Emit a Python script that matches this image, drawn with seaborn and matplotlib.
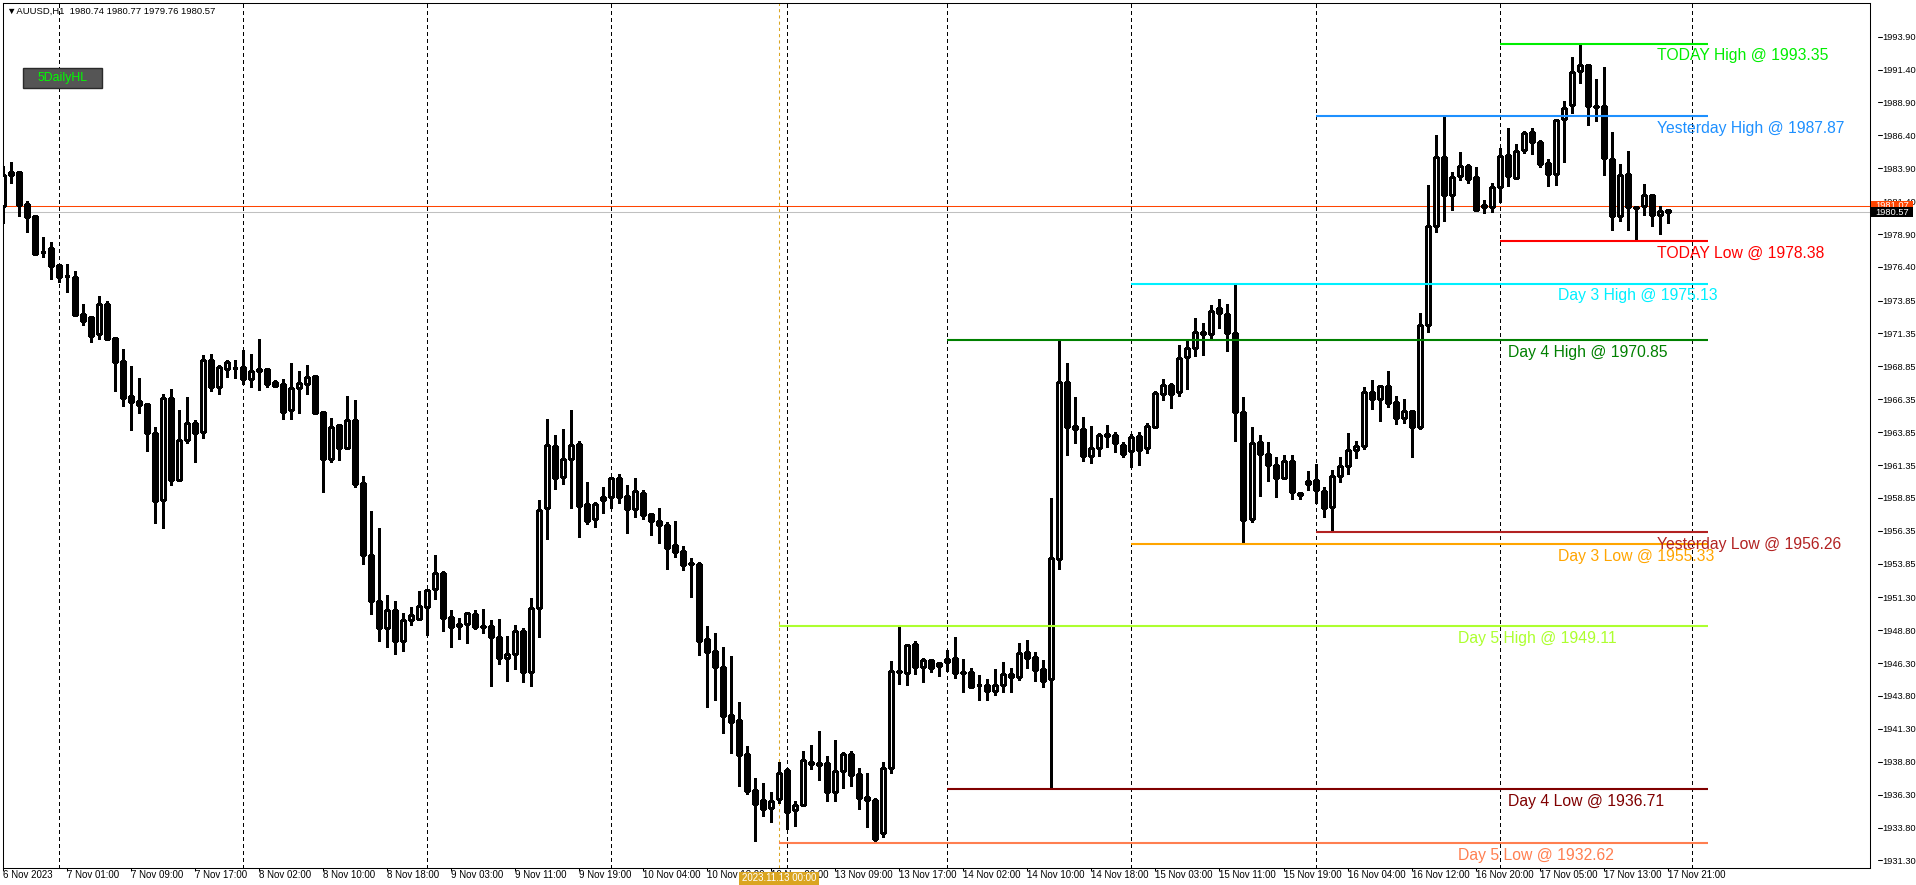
import numpy as np
import matplotlib
matplotlib.use('Agg')
import matplotlib.pyplot as plt
import matplotlib.transforms as mtransforms
from matplotlib.patches import Rectangle
import seaborn as sns

# ==========================
# Chart data: AUUSD H1 bars (6 Nov 17:00 -> 17 Nov 21:00)
# ==========================
opens = [
    1981.06, 1983.36, 1983.62, 1981.16, 1980.25, 1977.56, 1977.82, 1976.53, 1975.72, 1975.64,
    1972.83, 1972.57, 1971.28, 1973.59, 1971.00, 1969.26, 1966.60, 1966.22, 1965.99, 1963.79,
    1958.67, 1966.45, 1960.21, 1963.25, 1964.52, 1963.89, 1969.31, 1967.31, 1968.67, 1968.70,
    1968.78, 1967.91, 1968.62, 1968.62, 1967.64, 1967.48, 1965.51, 1967.18, 1967.48, 1968.12,
    1965.38, 1961.83, 1964.39, 1962.67, 1964.75, 1959.99, 1954.50, 1951.00, 1949.00, 1950.30,
    1948.00, 1949.55, 1949.62, 1950.59, 1951.90, 1953.12, 1949.77, 1949.24, 1949.24, 1950.00,
    1949.10, 1949.09, 1948.28, 1946.71, 1946.96, 1948.74, 1945.65, 1950.46, 1958.06, 1962.80,
    1960.46, 1961.78, 1962.92, 1958.36, 1957.22, 1958.67, 1958.89, 1960.34, 1958.97, 1957.98,
    1959.20, 1957.60, 1957.10, 1956.79, 1955.27, 1954.79, 1953.88, 1953.83, 1948.10, 1947.22,
    1945.98, 1942.33, 1941.97, 1939.39, 1936.65, 1935.89, 1935.26, 1935.94, 1938.17, 1935.11,
    1935.54, 1938.78, 1938.53, 1938.71, 1936.48, 1938.07, 1939.39, 1937.87, 1936.12, 1935.89,
    1933.36, 1938.30, 1945.70, 1945.52, 1947.72, 1946.03, 1946.51, 1946.05, 1946.36, 1946.66,
    1945.62, 1945.60, 1944.61, 1944.61, 1944.20, 1944.61, 1945.44, 1945.27, 1947.14, 1946.74,
    1945.85, 1945.06, 1954.18, 1967.63, 1964.29, 1964.09, 1962.06, 1962.62, 1963.68, 1963.61,
    1962.85, 1962.39, 1963.53, 1962.62, 1964.24, 1966.75, 1967.40, 1966.87, 1969.53, 1970.22,
    1971.43, 1971.33, 1973.30, 1972.80, 1971.36, 1965.40, 1957.25, 1963.07, 1962.16, 1961.33,
    1960.34, 1961.63, 1959.22, 1959.88, 1960.19, 1959.35, 1958.19, 1960.54, 1961.25, 1962.47,
    1962.77, 1966.87, 1966.39, 1967.33, 1966.11, 1964.95, 1965.43, 1964.21, 1971.96, 1979.48,
    1984.73, 1981.90, 1983.29, 1984.06, 1983.21, 1980.95, 1980.95, 1982.44, 1984.88, 1983.18,
    1985.26, 1986.65, 1985.93, 1984.31, 1983.47, 1987.63, 1988.71, 1991.28, 1991.76, 1988.66,
    1988.61, 1984.57, 1980.26, 1983.44, 1980.93, 1981.00, 1981.85, 1980.33, 1980.74,
]
highs = [
    1984.07, 1984.38, 1983.67, 1981.41, 1980.25, 1978.65, 1978.27, 1976.53, 1976.60, 1976.10,
    1973.59, 1972.57, 1974.20, 1973.79, 1971.00, 1970.14, 1968.88, 1967.96, 1965.99, 1964.27,
    1966.75, 1967.15, 1965.53, 1966.52, 1964.77, 1969.71, 1969.76, 1968.95, 1969.33, 1969.31,
    1970.07, 1969.79, 1970.90, 1968.62, 1967.81, 1967.86, 1969.10, 1968.50, 1968.95, 1968.12,
    1965.38, 1964.93, 1964.44, 1966.60, 1966.29, 1960.53, 1957.86, 1956.54, 1951.50, 1951.00,
    1950.08, 1950.54, 1951.78, 1951.90, 1954.51, 1953.30, 1950.33, 1949.72, 1950.10, 1950.33,
    1950.41, 1949.57, 1949.65, 1948.36, 1949.19, 1948.94, 1951.22, 1958.69, 1964.85, 1963.63,
    1964.09, 1965.53, 1963.17, 1960.06, 1958.54, 1959.68, 1960.46, 1960.67, 1959.83, 1960.36,
    1959.45, 1957.73, 1958.08, 1957.00, 1957.10, 1955.20, 1954.28, 1953.98, 1949.12, 1948.56,
    1947.52, 1946.84, 1943.34, 1940.00, 1937.54, 1937.19, 1936.50, 1938.81, 1938.30, 1935.82,
    1939.59, 1940.10, 1941.14, 1939.24, 1940.45, 1939.57, 1939.64, 1938.33, 1937.97, 1936.02,
    1938.81, 1946.46, 1949.11, 1947.75, 1947.98, 1946.66, 1946.51, 1946.41, 1947.29, 1948.28,
    1946.58, 1945.90, 1945.39, 1945.09, 1945.85, 1946.38, 1945.92, 1947.85, 1948.05, 1947.14,
    1946.53, 1958.82, 1970.85, 1969.08, 1966.49, 1964.97, 1964.29, 1963.76, 1964.37, 1963.86,
    1963.10, 1963.71, 1963.86, 1964.52, 1966.97, 1967.89, 1967.56, 1970.45, 1970.77, 1972.52,
    1972.12, 1973.50, 1974.00, 1973.60, 1975.13, 1966.54, 1964.26, 1963.61, 1963.07, 1961.96,
    1962.09, 1962.09, 1959.30, 1960.87, 1961.40, 1959.66, 1960.97, 1961.96, 1963.76, 1963.20,
    1967.25, 1967.79, 1967.41, 1968.47, 1966.60, 1966.34, 1965.53, 1972.93, 1982.65, 1986.40,
    1987.87, 1983.62, 1985.11, 1984.26, 1983.98, 1981.49, 1982.77, 1985.42, 1986.96, 1985.73,
    1986.75, 1986.96, 1986.04, 1984.57, 1987.60, 1989.02, 1992.36, 1993.35, 1991.76, 1990.66,
    1991.58, 1986.63, 1984.19, 1985.21, 1981.05, 1982.70, 1981.85, 1981.00, 1980.77,
]
lows = [
    1979.77, 1982.81, 1980.27, 1979.08, 1977.31, 1977.18, 1975.51, 1975.29, 1974.50, 1972.68,
    1971.99, 1970.73, 1970.93, 1970.85, 1967.00, 1965.86, 1964.04, 1965.28, 1962.44, 1956.97,
    1956.54, 1959.86, 1960.11, 1963.00, 1961.61, 1963.43, 1967.00, 1966.77, 1968.07, 1967.99,
    1967.51, 1967.31, 1967.08, 1967.31, 1967.31, 1964.87, 1964.87, 1965.33, 1966.77, 1965.20,
    1959.33, 1961.56, 1961.73, 1962.57, 1959.71, 1953.80, 1950.00, 1948.00, 1947.50, 1947.00,
    1947.24, 1949.19, 1949.57, 1948.43, 1951.19, 1948.76, 1947.55, 1948.15, 1947.85, 1948.86,
    1948.56, 1944.56, 1946.20, 1944.94, 1945.87, 1944.89, 1944.58, 1948.31, 1955.70, 1959.55,
    1959.93, 1958.11, 1955.91, 1956.87, 1956.67, 1957.73, 1958.06, 1958.49, 1956.21, 1957.42,
    1957.27, 1956.06, 1955.45, 1953.47, 1954.39, 1953.37, 1951.35, 1946.91, 1943.00, 1943.50,
    1941.01, 1939.49, 1936.98, 1936.32, 1932.80, 1934.70, 1934.25, 1935.64, 1933.72, 1933.94,
    1935.46, 1938.28, 1937.41, 1935.84, 1935.84, 1936.83, 1936.98, 1935.18, 1933.87, 1932.62,
    1933.11, 1937.97, 1944.71, 1944.63, 1945.47, 1944.89, 1945.62, 1945.32, 1945.70, 1945.19,
    1944.13, 1944.43, 1943.52, 1943.52, 1943.90, 1944.13, 1944.13, 1945.01, 1945.92, 1944.96,
    1944.51, 1936.71, 1953.42, 1962.11, 1963.05, 1961.68, 1961.53, 1962.06, 1962.74, 1962.36,
    1961.98, 1961.23, 1961.38, 1962.29, 1964.19, 1966.27, 1965.71, 1966.62, 1967.15, 1969.66,
    1969.74, 1971.03, 1971.74, 1970.04, 1963.20, 1955.33, 1957.05, 1959.02, 1960.16, 1958.95,
    1960.26, 1958.79, 1958.79, 1959.43, 1958.49, 1957.37, 1956.26, 1960.09, 1960.64, 1961.86,
    1962.54, 1965.58, 1964.72, 1965.78, 1964.44, 1964.57, 1961.93, 1964.06, 1971.47, 1979.05,
    1979.90, 1980.72, 1982.98, 1982.80, 1980.62, 1980.49, 1980.59, 1981.31, 1982.52, 1983.11,
    1985.06, 1985.01, 1984.01, 1982.54, 1982.65, 1984.39, 1988.07, 1990.40, 1987.22, 1987.48,
    1983.42, 1979.23, 1979.87, 1979.20, 1978.38, 1980.33, 1979.51, 1978.87, 1979.76,
]
closes = [
    1983.39, 1983.64, 1981.11, 1980.22, 1977.39, 1977.50, 1976.50, 1975.66, 1975.70, 1972.75,
    1972.32, 1971.18, 1973.56, 1970.93, 1969.21, 1966.47, 1966.17, 1965.91, 1963.81, 1958.64,
    1966.42, 1960.24, 1963.23, 1964.52, 1963.81, 1969.31, 1967.31, 1968.83, 1969.16, 1968.72,
    1967.91, 1968.47, 1968.47, 1967.53, 1967.38, 1965.41, 1967.18, 1967.56, 1968.02, 1965.33,
    1961.83, 1964.22, 1962.67, 1964.75, 1959.94, 1954.50, 1951.00, 1949.00, 1950.30, 1948.00,
    1949.57, 1949.93, 1950.61, 1951.83, 1953.12, 1949.75, 1949.07, 1949.14, 1950.08, 1949.07,
    1949.08, 1948.31, 1946.71, 1946.96, 1948.74, 1945.65, 1950.46, 1957.93, 1962.85, 1960.39,
    1961.78, 1962.85, 1958.26, 1957.12, 1958.36, 1958.89, 1960.34, 1958.94, 1958.03, 1959.35,
    1957.58, 1957.12, 1956.82, 1955.07, 1954.77, 1953.78, 1953.84, 1948.00, 1947.17, 1945.98,
    1942.30, 1941.85, 1939.34, 1936.60, 1935.62, 1935.24, 1935.82, 1937.95, 1935.01, 1935.49,
    1938.91, 1938.60, 1938.71, 1936.48, 1938.07, 1939.39, 1937.82, 1936.07, 1935.87, 1932.96,
    1938.30, 1945.70, 1945.60, 1947.67, 1946.03, 1946.51, 1945.95, 1946.28, 1946.58, 1945.52,
    1945.52, 1944.51, 1944.62, 1944.20, 1944.61, 1945.44, 1945.27, 1947.04, 1946.71, 1945.80,
    1944.96, 1954.26, 1967.63, 1964.26, 1964.06, 1962.06, 1962.62, 1963.61, 1963.58, 1963.05,
    1962.21, 1963.50, 1962.52, 1964.29, 1966.80, 1967.40, 1966.77, 1969.46, 1970.22, 1971.43,
    1971.33, 1973.03, 1972.88, 1971.41, 1965.40, 1957.17, 1963.00, 1962.16, 1961.33, 1960.34,
    1961.63, 1959.28, 1959.05, 1960.11, 1959.43, 1958.11, 1960.54, 1961.25, 1962.47, 1962.77,
    1966.87, 1966.39, 1967.33, 1966.09, 1964.95, 1965.43, 1964.21, 1971.96, 1979.48, 1984.73,
    1981.90, 1983.21, 1984.06, 1983.11, 1980.74, 1981.10, 1982.44, 1984.80, 1983.31, 1985.21,
    1986.55, 1985.88, 1984.26, 1983.47, 1987.58, 1988.50, 1991.20, 1991.76, 1988.66, 1988.58,
    1984.70, 1980.26, 1983.36, 1980.93, 1980.88, 1981.85, 1980.33, 1980.62, 1980.57,
]
bid = 1980.57
ask = 1981.07

# bottom time scale (bar index -> label)
time_tick_bars = [0, 8, 16, 24, 32, 40, 48, 56, 64, 72, 80, 88, 96, 104,
                  112, 120, 128, 136, 144, 152, 160, 168, 176, 184, 192, 200, 208]
time_tick_labels = ['6 Nov 2023', '7 Nov 01:00', '7 Nov 09:00', '7 Nov 17:00',
                    '8 Nov 02:00', '8 Nov 10:00', '8 Nov 18:00', '9 Nov 03:00',
                    '9 Nov 11:00', '9 Nov 19:00', '10 Nov 04:00', '10 Nov 12:00',
                    '10 Nov 20:00', '13 Nov 09:00', '13 Nov 17:00', '14 Nov 02:00',
                    '14 Nov 10:00', '14 Nov 18:00', '15 Nov 03:00', '15 Nov 11:00',
                    '15 Nov 19:00', '16 Nov 04:00', '16 Nov 12:00', '16 Nov 20:00',
                    '17 Nov 05:00', '17 Nov 13:00', '17 Nov 21:00']

# right price scale
price_ticks = [1993.90, 1991.40, 1988.90, 1986.40, 1983.90, 1981.40, 1978.90, 1976.40,
               1973.85, 1971.35, 1968.85, 1966.35, 1963.85, 1961.35, 1958.85, 1956.35,
               1953.85, 1951.30, 1948.80, 1946.30, 1943.80, 1941.30, 1938.80, 1936.30,
               1933.80, 1931.30]

# period separators (first bar of each day) and the crosshair time
day_start_bars = [7, 30, 53, 76, 98, 118, 141, 164, 187, 211]
crosshair_bar = 97
crosshair_label = '2023.11.13 00:00'

# 5DailyHL indicator levels
level_names = ['TODAY High', 'Yesterday High', 'TODAY Low', 'Day 3 High', 'Day 4 High',
               'Yesterday Low', 'Day 3 Low', 'Day 5 High', 'Day 4 Low', 'Day 5 Low']
level_prices = [1993.35, 1987.87, 1978.38, 1975.13, 1970.85,
                1956.26, 1955.33, 1949.11, 1936.71, 1932.62]
level_first_bar = [187, 164, 187, 141, 118, 164, 141, 97, 118, 97]

# ==========================
# Style
# ==========================
sns.set_theme(style='white')
plt.rcParams['font.family'] = ['Liberation Sans', 'DejaVu Sans']

level_colors = ['#00ee00', '#1e90ff', '#ff0000', '#00f0ff', '#008000',
                '#b22222', '#ffa500', '#adff2f', '#800000', '#ff7f50']
label_bar = {'TODAY': 206.7, 'Yesterday': 206.7, 'Day 3': 194.3, 'Day 4': 188.1, 'Day 5': 181.8}
line_end_bar = 213
scale_font = 6.7
time_font = 7.0

W, H = 1916, 885
fig = plt.figure(figsize=(W / 100, H / 100), dpi=100)
fig.patch.set_facecolor('white')
ax = fig.add_axes([2.7 / W, 17 / H, 1867.3 / W, 865.3 / H])
ax.set_facecolor('white')

# ==========================
# Candles
# ==========================
x = np.arange(len(opens))
o = np.array(opens)
h = np.array(highs)
l = np.array(lows)
c = np.array(closes)
up = c >= o

ax.vlines(x, l, h, color='black', linewidth=0.75, zorder=3, antialiased=False)
ax.bar(x[up], c[up] - o[up], bottom=o[up], width=0.5, color='white',
       edgecolor='black', linewidth=0.75, zorder=4, antialiased=False)
ax.bar(x[~up], o[~up] - c[~up], bottom=c[~up], width=0.5, color='black',
       edgecolor='black', linewidth=0.75, zorder=4, antialiased=False)

# separators, crosshair, bid / ask
for b in day_start_bars:
    ax.axvline(b, color='black', linewidth=0.75, linestyle=(0, (3, 3)), zorder=1, antialiased=False)
ax.axvline(crosshair_bar, color='#daa520', linewidth=0.75, linestyle=(0, (3, 3)), zorder=1)
ax.axhline(ask, color='#ff4500', linewidth=0.75, zorder=2)
ax.axhline(bid, color='#c0c0c0', linewidth=0.75, zorder=2)

# indicator levels
for name, p, b, col in zip(level_names, level_prices, level_first_bar, level_colors):
    ax.hlines(p, b, line_end_bar, color=col, linewidth=1.5, zorder=5)
    key = name.rsplit(' ', 1)[0]
    ax.annotate(f'{name} @ {p:.2f}', (label_bar[key], p), xytext=(0, -3.3),
                textcoords='offset points', ha='left', va='top', color=col,
                fontsize=11.3, zorder=6)

# ==========================
# Axes and scales
# ==========================
ax.set_xlim(-0.075, 233.3)
ax.set_ylim(1930.73, 1996.48)
ax.grid(False)
for s in ax.spines.values():
    s.set_visible(True)
    s.set_color('black')
    s.set_linewidth(0.75)

ax.set_xticks(time_tick_bars, time_tick_labels)
ax.tick_params(axis='x', bottom=True, direction='out', length=2.2, width=0.75,
               pad=-0.4, labelsize=time_font, labelcolor='black', color='black')
for t in ax.get_xticklabels():
    t.set_horizontalalignment('left')

ax.yaxis.tick_right()
ax.set_yticks(price_ticks, [f'{p:.2f}' for p in price_ticks])
ax.tick_params(axis='y', right=True, left=False, length=0, pad=8.6,
               labelsize=scale_font, labelcolor='black')

tr = mtransforms.blended_transform_factory(ax.transAxes, ax.transData)
for p in price_ticks:
    ax.plot([1.0045, 1.0066], [p, p], color='black', linewidth=0.75,
            transform=tr, clip_on=False)

# bid / ask price tags on the scale
z = 7
for p, col in [(ask, '#ff4500'), (bid, 'black')]:
    ax.add_patch(Rectangle((1.0005, p - 0.38), 0.0225, 0.76, transform=tr,
                           facecolor=col, edgecolor='none', clip_on=False, zorder=z))
    ax.text(1.0118, p, f'{p:.2f}', transform=tr, color='white', fontsize=scale_font,
            ha='center', va='center', clip_on=False, zorder=z + 1)
    z += 2

# crosshair time tag
tr2 = mtransforms.blended_transform_factory(ax.transData, ax.transAxes)
ax.add_patch(Rectangle((crosshair_bar - 5, -0.0197), 10, 0.0151, transform=tr2,
                       facecolor='#daa520', edgecolor='none', clip_on=False, zorder=7))
ax.text(crosshair_bar, -0.0121, crosshair_label, transform=tr2, color='white',
        fontsize=time_font, ha='center', va='center', clip_on=False, zorder=8)

# header and indicator button
fig.text(7 / W, 1 - 11 / H,
         f'\u25bcAUUSD,H1  {opens[-1]:.2f} {highs[-1]:.2f} {lows[-1]:.2f} {closes[-1]:.2f}',
         fontsize=6.8, ha='left', va='center', color='black')
fig.add_artist(Rectangle((23 / W, 1 - 88 / H), 79 / W, 20 / H, transform=fig.transFigure,
                         facecolor='#555555', edgecolor='#2a2a2a', linewidth=1))
fig.text(62.5 / W, 1 - 78 / H, '5DailyHL', color='#00ff00', fontsize=8.8,
         ha='center', va='center')

fig.savefig('out.png', dpi=100, facecolor='white')
